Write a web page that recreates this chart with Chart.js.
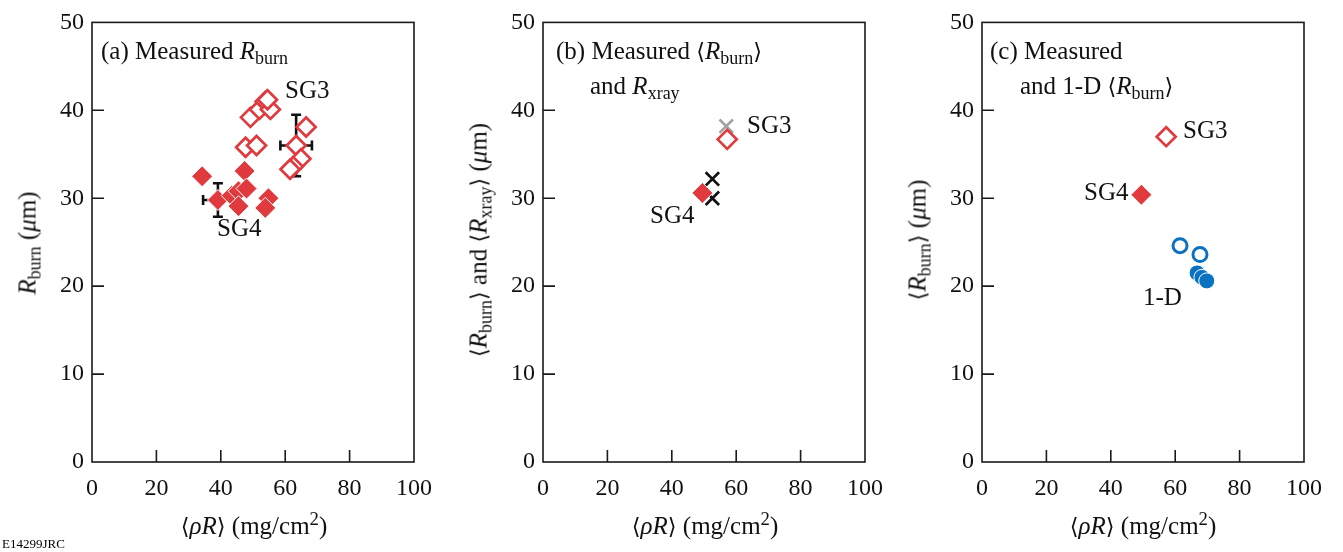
<!DOCTYPE html>
<html>
<head>
<meta charset="utf-8">
<script src="https://cdn.jsdelivr.net/npm/chart.js@4"></script>
<style>
  body { margin: 0; width: 1343px; height: 552px; background: #fff; position: relative; overflow: hidden; }
  .panel { position: absolute; top: 0; }
  .txt { position: absolute; font-family: 'Liberation Serif', 'DejaVu Serif', serif; font-size: 25px; line-height: 1; white-space: nowrap; color: #111; }
  .ytitle { position: absolute; font-family: 'Liberation Serif', 'DejaVu Serif', serif; font-size: 25px; line-height: 1; white-space: nowrap; color: #111; transform: translate(-50%, -50%) rotate(-90deg); }
  .xtitle { position: absolute; font-family: 'Liberation Serif', 'DejaVu Serif', serif; font-size: 25px; line-height: 1; white-space: nowrap; color: #111; transform: translate(-50%, -50%); }
  sub { font-size: 0.72em; vertical-align: -0.3em; line-height: 0; }
  sup { font-size: 0.75em; vertical-align: 0.45em; line-height: 0; }
  .br { font-family: 'DejaVu Serif', serif; font-size: 0.9em; }
  #code { position: absolute; left: 2px; top: 536px; font-family: 'Liberation Serif', serif; font-size: 13px; }
</style>
</head>
<body>

<div class="panel" style="left:0px"><canvas id="chartA" width="444" height="552"></canvas></div>
<div class="panel" style="left:451px"><canvas id="chartB" width="444" height="552"></canvas></div>
<div class="panel" style="left:890px"><canvas id="chartC" width="444" height="552"></canvas></div>

<!-- panel labels -->
<div class="txt" style="left:101px; top:38px">(a) Measured <i>R</i><sub>burn</sub></div>
<div class="txt" style="left:556px; top:38px">(b) Measured <span class="br">⟨</span><i>R</i><sub>burn</sub><span class="br">⟩</span></div>
<div class="txt" style="left:590px; top:73px">and <i>R</i><sub>xray</sub></div>
<div class="txt" style="left:990px; top:38px">(c) Measured</div>
<div class="txt" style="left:1020px; top:73px">and 1-D <span class="br">⟨</span><i>R</i><sub>burn</sub><span class="br">⟩</span></div>

<!-- annotations -->
<div class="txt" style="left:285px; top:77px">SG3</div>
<div class="txt" style="left:217px; top:215px">SG4</div>
<div class="txt" style="left:747px; top:112px">SG3</div>
<div class="txt" style="left:650px; top:202px">SG4</div>
<div class="txt" style="left:1183px; top:117px">SG3</div>
<div class="txt" style="left:1084px; top:179px">SG4</div>
<div class="txt" style="left:1143px; top:284px">1-D</div>

<!-- axis titles -->
<div class="ytitle" style="left:27px; top:243px"><i>R</i><sub>burn</sub> (<i>μ</i>m)</div>
<div class="ytitle" style="left:478px; top:240px"><span class="br">⟨</span><i>R</i><sub>burn</sub><span class="br">⟩</span> and <span class="br">⟨</span><i>R</i><sub>xray</sub><span class="br">⟩</span> (<i>μ</i>m)</div>
<div class="ytitle" style="left:917px; top:240px"><span class="br">⟨</span><i>R</i><sub>burn</sub><span class="br">⟩</span> (<i>μ</i>m)</div>
<div class="xtitle" style="left:254px; top:525px"><span class="br">⟨</span><i>ρR</i><span class="br">⟩</span> (mg/cm<sup>2</sup>)</div>
<div class="xtitle" style="left:705px; top:525px"><span class="br">⟨</span><i>ρR</i><span class="br">⟩</span> (mg/cm<sup>2</sup>)</div>
<div class="xtitle" style="left:1143px; top:525px"><span class="br">⟨</span><i>ρR</i><span class="br">⟩</span> (mg/cm<sup>2</sup>)</div>

<div id="code">E14299JRC</div>

<script>
// ---- data ----
// panel (a): individual shots
const aSG3x = [49.2, 52.0, 53.8, 55.4, 54.5, 47.7, 51.1, 66.5, 63.4, 64.9, 62.5, 61.5];
const aSG3y = [39.2, 40.1, 41.0, 40.1, 41.2, 35.8, 36.0, 38.1, 36.0, 34.5, 33.6, 33.3];
const aSG4x = [34.2, 47.4, 39.1, 43.4, 45.5, 48.0, 45.5, 54.8, 53.8];
const aSG4y = [32.5, 33.1, 29.8, 30.3, 30.8, 31.1, 29.1, 30.0, 28.9];
// panel (a): error bars (SG4, SG3)
const errX = [39.1, 63.4];
const errY = [29.8, 36.0];
const errDX = [4.6, 4.9];
const errDY = [1.9, 3.5];

// panel (b): averages
const bBurnSG3x = [57.2], bBurnSG3y = [36.7];
const bBurnSG4x = [49.5], bBurnSG4y = [30.6];
const bXraySG3x = [56.9], bXraySG3y = [38.2];
const bXraySG4x = [52.6, 52.6], bXraySG4y = [32.2, 30.0];

// panel (c): measured vs 1-D
const cSG3x = [57.2], cSG3y = [37.0];
const cSG4x = [49.5], cSG4y = [30.4];
const cOpenX = [61.5, 67.7], cOpenY = [24.6, 23.6];
const cFillX = [66.8, 68.3, 69.8], cFillY = [21.5, 21.0, 20.6];

const xTicks = [0, 20, 40, 60, 80, 100];
const yTicks = [0, 10, 20, 30, 40, 50];

const RED = '#e03a3f';
const BLUE = '#0b72c1';

function pts(xs, ys) {
    return xs.map((x, i) => ({ x: x, y: ys[i] }));
}

// box round the plot area plus inward tick marks
const framePlugin = {
    id: 'frame',
    afterDraw(chart) {
        const { ctx, chartArea: a, scales } = chart;
        ctx.save();
        ctx.strokeStyle = '#1a1a1a';
        ctx.lineWidth = 1.6;
        ctx.strokeRect(a.left, a.top, a.width, a.height);
        ctx.beginPath();
        xTicks.slice(1, -1).forEach(v => {
            const px = scales.x.getPixelForValue(v);
            ctx.moveTo(px, a.bottom);
            ctx.lineTo(px, a.bottom - 12);
        });
        yTicks.slice(1, -1).forEach(v => {
            const py = scales.y.getPixelForValue(v);
            ctx.moveTo(a.left, py);
            ctx.lineTo(a.left + 12, py);
        });
        ctx.stroke();
        ctx.restore();
    }
};

// error bars for panel (a), drawn under the markers
const errorBarPlugin = {
    id: 'errbars',
    beforeDatasetsDraw(chart) {
        const { ctx, scales: { x, y } } = chart;
        ctx.save();
        ctx.strokeStyle = '#111';
        ctx.lineWidth = 2.6;
        ctx.beginPath();
        errX.forEach((cx, i) => {
            const px = x.getPixelForValue(cx);
            const py = y.getPixelForValue(errY[i]);
            const x0 = x.getPixelForValue(cx - errDX[i]);
            const x1 = x.getPixelForValue(cx + errDX[i]);
            const y0 = y.getPixelForValue(errY[i] - errDY[i]);
            const y1 = y.getPixelForValue(errY[i] + errDY[i]);
            ctx.moveTo(x0, py); ctx.lineTo(x1, py);
            ctx.moveTo(x0, py - 5); ctx.lineTo(x0, py + 5);
            ctx.moveTo(x1, py - 5); ctx.lineTo(x1, py + 5);
            ctx.moveTo(px, y0); ctx.lineTo(px, y1);
            ctx.moveTo(px - 5, y0); ctx.lineTo(px + 5, y0);
            ctx.moveTo(px - 5, y1); ctx.lineTo(px + 5, y1);
        });
        ctx.stroke();
        ctx.restore();
    }
};

function makeOptions() {
    const tickFont = { family: "'Liberation Serif', serif", size: 24 };
    return {
        responsive: false,
        animation: false,
        layout: { padding: { left: 0, top: 17, right: 28, bottom: 0 } },
        plugins: { legend: { display: false }, tooltip: { enabled: false } },
        scales: {
            x: {
                type: 'linear',
                min: 0, max: 100,
                afterFit: s => { s.height = 90; },
                afterBuildTicks: s => { s.ticks = xTicks.map(v => ({ value: v })); },
                grid: { display: false, drawTicks: false },
                border: { display: false },
                ticks: { font: tickFont, color: '#111', padding: 12, maxRotation: 0 }
            },
            y: {
                type: 'linear',
                min: 0, max: 50,
                afterFit: s => { s.width = 92; },
                afterBuildTicks: s => { s.ticks = yTicks.map(v => ({ value: v })); },
                grid: { display: false, drawTicks: false },
                border: { display: false },
                ticks: { font: tickFont, color: '#111', padding: 8 }
            }
        }
    };
}

function openDiamond(data) {
    return { data: data, pointStyle: 'rectRot', pointRadius: 9.5, borderWidth: 2.7,
             borderColor: RED, backgroundColor: '#fff', showLine: false };
}
function filledDiamond(data) {
    return { data: data, pointStyle: 'rectRot', pointRadius: 10.5, borderWidth: 1,
             borderColor: '#fff', backgroundColor: RED, showLine: false };
}
function cross(data, color) {
    return { data: data, pointStyle: 'crossRot', pointRadius: 9.5, borderWidth: 2.7,
             borderColor: color, backgroundColor: color, showLine: false };
}

new Chart(document.getElementById('chartA'), {
    type: 'scatter',
    data: {
        datasets: [
            filledDiamond(pts(aSG4x, aSG4y)),
            openDiamond(pts(aSG3x, aSG3y))
        ]
    },
    options: makeOptions(),
    plugins: [errorBarPlugin, framePlugin]
});

new Chart(document.getElementById('chartB'), {
    type: 'scatter',
    data: {
        datasets: [
            openDiamond(pts(bBurnSG3x, bBurnSG3y)),
            filledDiamond(pts(bBurnSG4x, bBurnSG4y)),
            cross(pts(bXraySG3x, bXraySG3y), '#a3a3a3'),
            cross(pts(bXraySG4x, bXraySG4y), '#111')
        ]
    },
    options: makeOptions(),
    plugins: [framePlugin]
});

new Chart(document.getElementById('chartC'), {
    type: 'scatter',
    data: {
        datasets: [
            openDiamond(pts(cSG3x, cSG3y)),
            filledDiamond(pts(cSG4x, cSG4y)),
            { data: pts(cOpenX, cOpenY), pointStyle: 'circle', pointRadius: 7, borderWidth: 3,
              borderColor: BLUE, backgroundColor: '#fff', showLine: false },
            { data: pts(cFillX, cFillY), pointStyle: 'circle', pointRadius: 8, borderWidth: 1,
              borderColor: '#fff', backgroundColor: BLUE, showLine: false }
        ]
    },
    options: makeOptions(),
    plugins: [framePlugin]
});
</script>
</body>
</html>
